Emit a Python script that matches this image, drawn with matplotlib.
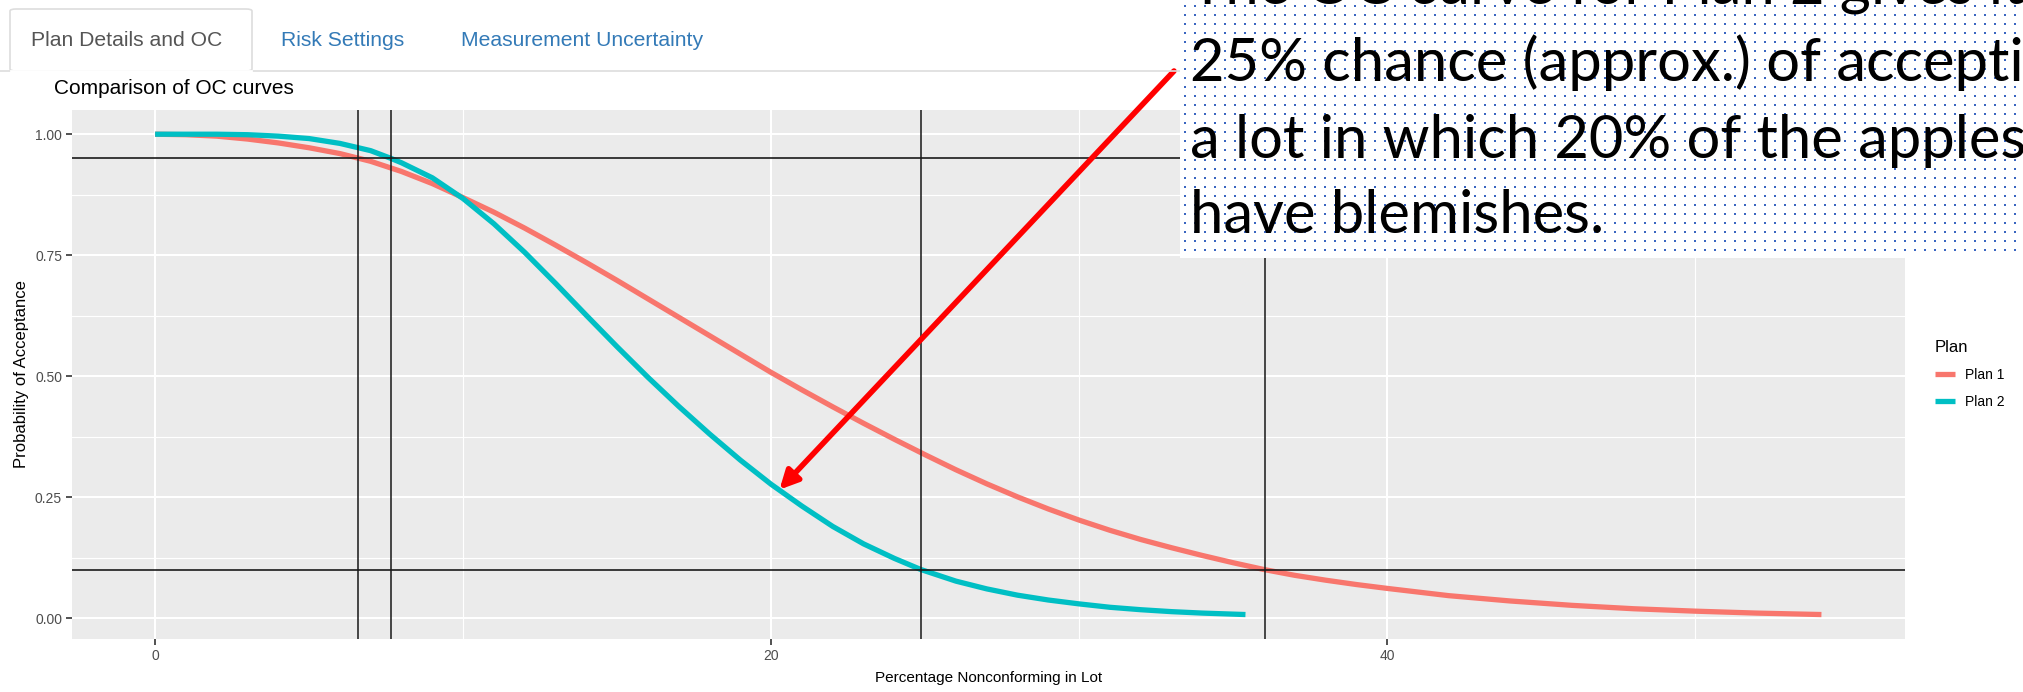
import numpy as np
import matplotlib
matplotlib.use("Agg")
import matplotlib.pyplot as plt
from matplotlib.patches import FancyBboxPatch
from matplotlib.lines import Line2D

# ---------------------------------------------------------------- data
pct_plan1 = [0, 1, 2, 3, 4, 5, 6, 7, 8, 9, 10, 11, 12, 13, 14, 15, 16, 17, 18,
             19, 20, 21, 22, 23, 24, 25, 26, 27, 28, 29, 30, 31, 32, 33, 34, 35,
             36, 37, 38, 39, 40, 42, 44, 46, 48, 50, 52, 54.1]
pa_plan1 = [1.000, 0.999, 0.996, 0.990, 0.982, 0.972, 0.960, 0.944, 0.923, 0.898,
            0.869, 0.839, 0.806, 0.771, 0.735, 0.698, 0.660, 0.622, 0.584, 0.546,
            0.508, 0.472, 0.437, 0.403, 0.370, 0.338, 0.307, 0.278, 0.251, 0.226,
            0.203, 0.182, 0.163, 0.146, 0.130, 0.115, 0.101, 0.089, 0.079, 0.070,
            0.062, 0.047, 0.036, 0.027, 0.020, 0.015, 0.011, 0.008]

pct_plan2 = [0, 2, 3, 4, 5, 6, 7, 7.66, 8, 9, 10, 11, 12, 13, 14, 15, 16, 17,
             18, 19, 20, 21, 22, 23, 24, 24.86, 26, 27, 28, 29, 30, 31, 32, 33,
             34, 35.4]
pa_plan2 = [1.000, 1.000, 0.999, 0.996, 0.991, 0.981, 0.966, 0.950, 0.941, 0.910,
            0.867, 0.815, 0.756, 0.692, 0.626, 0.561, 0.498, 0.438, 0.381, 0.327,
            0.277, 0.232, 0.190, 0.154, 0.124, 0.101, 0.077, 0.061, 0.048, 0.038,
            0.030, 0.023, 0.018, 0.014, 0.011, 0.008]

plan_names = ["Plan 1", "Plan 2"]
plan_colors = ["#F8766D", "#00BFC4"]

ref_pa = [0.95, 0.10]                 # producer / consumer risk levels
ref_pct = [6.60, 7.66, 24.86, 36.03]  # AQL / LTPD for each plan

x_ticks = [0, 20, 40]
x_minor = [10, 30, 50]
y_ticks = [0.0, 0.25, 0.50, 0.75, 1.00]
y_tick_labels = ["0.00", "0.25", "0.50", "0.75", "1.00"]
y_minor = [0.125, 0.375, 0.625, 0.875]

tab_labels = ["Plan Details and OC", "Risk Settings", "Measurement Uncertainty"]
plot_title = "Comparison of OC curves"
x_label = "Percentage Nonconforming in Lot"
y_label = "Probability of Acceptance"

note_lines = ["The OC curve for Plan 2 gives it a",
              "25% chance (approx.) of accepting",
              "a lot in which 20% of the apples",
              "have blemishes."]
pointer = (20.27, 0.266)

# ---------------------------------------------------------------- layout helpers
W, H, DPI = 2023, 692, 100
UI_FONT = ["Liberation Sans", "DejaVu Sans"]


def fx(px):
    return px / W


def fy(py):
    return 1 - py / H


fig = plt.figure(figsize=(W / DPI, H / DPI), dpi=DPI, facecolor="white")

# ---------------------------------------------------------------- tab bar
fig.add_artist(Line2D([fx(0), fx(1180)], [fy(71), fy(71)], color="#dddddd", lw=1.2))
tab = FancyBboxPatch((fx(10), fy(71)), fx(252) - fx(10), fy(9) - fy(71),
                     boxstyle="round,pad=0,rounding_size=0.003",
                     transform=fig.transFigure, facecolor="white",
                     edgecolor="#dddddd", lw=1.2)
fig.add_artist(tab)
fig.add_artist(Line2D([fx(11), fx(251)], [fy(71), fy(71)], color="white", lw=2))
tab_x = [31, 281, 461]
tab_colors = ["#555555", "#337ab7", "#337ab7"]
for lbl, xpos, col in zip(tab_labels, tab_x, tab_colors):
    fig.text(fx(xpos), fy(40), lbl, fontsize=15.2, color=col, family=UI_FONT,
             ha="left", va="center")

fig.text(fx(54), fy(89), plot_title, fontsize=15, color="black", family=UI_FONT,
         ha="left", va="center")

# ---------------------------------------------------------------- plot panel
ax = fig.add_axes([fx(71.8), fy(639), fx(1904.6) - fx(71.8), fy(110) - fy(639)])
ax.set_facecolor("#EBEBEB")
for s in ax.spines.values():
    s.set_visible(False)
ax.set_xlim(-2.705, 56.8)
ax.set_ylim(-0.0425, 1.05)

for v in x_ticks:
    ax.axvline(v, color="white", lw=1.5, zorder=1)
for v in x_minor:
    ax.axvline(v, color="white", lw=0.8, zorder=1)
for v in y_ticks:
    ax.axhline(v, color="white", lw=1.5, zorder=1)
for v in y_minor:
    ax.axhline(v, color="white", lw=0.8, zorder=1)

ax.set_xticks(x_ticks)
ax.set_xticklabels([str(v) for v in x_ticks])
ax.set_yticks(y_ticks)
ax.set_yticklabels(y_tick_labels)
ax.tick_params(axis="both", length=4, width=1.2, color="#333333",
               labelcolor="#4D4D4D", labelsize=10, pad=3)
for lab in ax.get_xticklabels() + ax.get_yticklabels():
    lab.set_family(UI_FONT)

ax.set_xlabel(x_label, fontsize=11, family=UI_FONT, color="black", labelpad=6)
ax.set_ylabel(y_label, fontsize=12, family=UI_FONT, color="black", labelpad=4)

lines = []
for xs, ys, name, col, z in zip([pct_plan1, pct_plan2], [pa_plan1, pa_plan2],
                                plan_names, plan_colors, [3, 4]):
    ln, = ax.plot(xs, ys, color=col, lw=3.8, label=name, zorder=z,
                  solid_capstyle="butt", solid_joinstyle="round")
    lines.append(ln)

for v in ref_pa:
    ax.axhline(v, color="#1a1a1a", lw=1.4, alpha=0.85, zorder=5)
for v in ref_pct:
    ax.axvline(v, color="#1a1a1a", lw=1.4, alpha=0.8, zorder=5)

leg = fig.legend(handles=lines, labels=plan_names, title="Plan",
                 loc="upper left", bbox_to_anchor=(fx(1922), fy(327)),
                 frameon=False, title_fontsize=12,
                 handlelength=1.5, handletextpad=0.7, labelspacing=0.95,
                 alignment="left", prop={"family": UI_FONT, "size": 10})
leg.get_title().set_family(UI_FONT)

# ---------------------------------------------------------------- call-out box
BOX_L = 1180
box = fig.add_axes([fx(BOX_L), fy(258), fx(2023) - fx(BOX_L), fy(0) - fy(258)],
                   zorder=10)
box.set_xlim(BOX_L, 2023)
box.set_ylim(258, 0)
box.set_facecolor("white")
box.set_xticks([])
box.set_yticks([])
for s in box.spines.values():
    s.set_visible(False)
gx, gy = np.meshgrid(np.arange(BOX_L + 5, 2023, 10), np.arange(6, 254, 9.03))
box.scatter(gx.ravel(), gy.ravel(), s=3.4, marker="s", color="#3A66C0",
            linewidths=0, zorder=1)
baselines = [3, 82, 158, 233]
for txt, yb in zip(note_lines, baselines):
    box.text(BOX_L + 10, yb, txt, fontsize=43, family=["Lato", "DejaVu Sans"],
             color="black", ha="left", va="baseline", zorder=2, clip_on=True)

# arrow pointing at Plan 2 at 20% nonconforming
ax.annotate("", xy=pointer, xycoords="data", xytext=(1174, H - 71),
            textcoords="figure pixels", annotation_clip=False,
            arrowprops=dict(arrowstyle="-|>,head_length=1.1,head_width=0.55",
                            color="#FF0000", lw=4, shrinkA=0, shrinkB=0),
            zorder=8)

fig.savefig("out.png", dpi=DPI, facecolor="white")
